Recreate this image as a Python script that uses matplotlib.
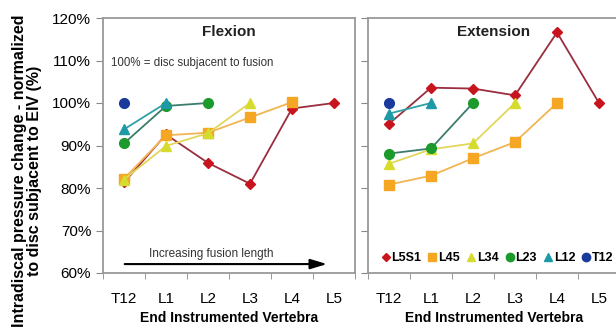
import matplotlib.pyplot as plt
from matplotlib.lines import Line2D
import numpy as np

plt.rcParams['font.family'] = ['Liberation Sans', 'DejaVu Sans']

nan = np.nan
vertebrae = ['T12', 'L1', 'L2', 'L3', 'L4', 'L5']
series = ['L5S1', 'L45', 'L34', 'L23', 'L12', 'T12']

# normalized intradiscal pressure (%) per end instrumented vertebra
flexion = {
    'L5S1': [81.3, 92.6, 85.9, 81.0, 98.7, 100.0],
    'L45':  [82.2, 92.4, 93.0, 96.6, 100.2, nan],
    'L34':  [82.0, 89.9, 92.9, 100.0, nan, nan],
    'L23':  [90.5, 99.3, 100.0, nan, nan, nan],
    'L12':  [93.8, 100.0, nan, nan, nan, nan],
    'T12':  [100.0, nan, nan, nan, nan, nan],
}
extension = {
    'L5S1': [95.1, 103.6, 103.4, 101.8, 116.6, 100.0],
    'L45':  [80.8, 82.9, 87.0, 90.8, 100.0, nan],
    'L34':  [85.7, 89.1, 90.5, 100.0, nan, nan],
    'L23':  [88.1, 89.3, 100.0, nan, nan, nan],
    'L12':  [97.5, 100.0, nan, nan, nan, nan],
    'T12':  [100.0, nan, nan, nan, nan, nan],
}

styles = {
    'L5S1': dict(marker='D', mfc='#c8141e', lc='#9a2e3e', ms=5),
    'L45':  dict(marker='s', mfc='#f5a623', lc='#f2b554', ms=6.5),
    'L34':  dict(marker='^', mfc='#d6dc2e', lc='#e2d75a', ms=7),
    'L23':  dict(marker='o', mfc='#1c9a2c', lc='#3b7d6c', ms=7),
    'L12':  dict(marker='^', mfc='#1d9aa6', lc='#2ea2a4', ms=7),
    'T12':  dict(marker='o', mfc='#1a3a9c', lc='#1a3a9c', ms=7),
}

fig = plt.figure(figsize=(6.16, 3.33), dpi=100)
ax1 = fig.add_axes([103 / 616, 1 - 273 / 333, 252 / 616, 255 / 333])
ax2 = fig.add_axes([368 / 616, 1 - 273 / 333, 252 / 616, 255 / 333])

x = np.arange(len(vertebrae))
for ax, data, title in [(ax1, flexion, 'Flexion'), (ax2, extension, 'Extension')]:
    for s in series:
        st = styles[s]
        ax.plot(x, data[s], color=st['lc'], lw=1.3, marker=st['marker'], ms=st['ms'],
                mfc=st['mfc'], mec=st['mfc'], zorder=3)
    ax.set_xlim(-0.5, 5.5)
    ax.set_ylim(60, 120)
    ax.set_xticks(x)
    ax.set_xticklabels(vertebrae, fontsize=11)
    ax.set_xticks(np.arange(-0.5, 6.0, 1.0), minor=True)
    ax.tick_params(axis='x', which='major', length=0, pad=14)
    ax.tick_params(axis='x', which='minor', length=4, color='#888888')
    ax.set_yticks(np.arange(60, 121, 10))
    ax.tick_params(axis='y', length=5, color='#888888', labelsize=11)
    for sp in ax.spines.values():
        sp.set_color('#999999')
        sp.set_linewidth(1.3)
    ax.set_xlabel('End Instrumented Vertebra', fontsize=10, fontweight='bold', labelpad=3)
    ax.text(0.5, 0.945, title, transform=ax.transAxes, ha='center', va='center',
            fontsize=11, fontweight='bold', color='#222222')

ax1.set_yticklabels([f'{v}%' for v in range(60, 121, 10)])
ax2.set_yticklabels([])
fig.text(27 / 616, 1 - 171 / 333,
         'Intradiscal pressure change - normalized\nto disc subjacent to EIV (%)',
         rotation=90, ha='center', va='center', fontsize=11.5, fontweight='bold',
         linespacing=1.0)

ax1.text(0.03, 0.823, '100% = disc subjacent to fusion', transform=ax1.transAxes,
         fontsize=8.3, va='center', color='#333333')
ax1.text(0.43, 0.075, 'Increasing fusion length', transform=ax1.transAxes,
         fontsize=8.5, ha='center', va='center', color='#333333')
ax1.annotate('', xy=(0.9, 0.035), xytext=(0.075, 0.035), xycoords='axes fraction',
             arrowprops=dict(arrowstyle='-|>,head_length=1.0,head_width=0.3',
                             color='black', lw=1.5))

handles = [Line2D([], [], ls='none', marker=styles[s]['marker'], ms=styles[s]['ms'] - 1,
                  mfc=styles[s]['mfc'], mec=styles[s]['mfc']) for s in series]
ax2.legend(handles, series, loc='lower left', bbox_to_anchor=(0.02, 0.0), ncol=6,
           frameon=False, handlelength=0.6, handletextpad=0.15, columnspacing=0.6,
           prop=dict(size=9, weight='bold'), borderaxespad=0.3)

fig.savefig('out.png', dpi=100)
